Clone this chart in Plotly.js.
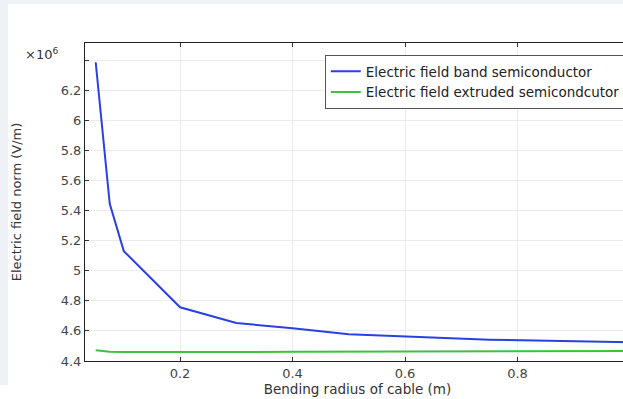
<!DOCTYPE html>
<html><head><meta charset="utf-8">
<script src="https://cdn.plot.ly/plotly-3.0.1.min.js"></script>
<style>
html,body{margin:0;padding:0;width:623px;height:399px;overflow:hidden;background:#fff;}
#topband{position:absolute;left:0;top:0;width:623px;height:4px;background:#eef1f5;}
#leftband{position:absolute;left:0;top:0;width:8px;height:385px;background:#eef1f5;}
#g{position:absolute;left:8px;top:4px;width:660px;height:395px;}
</style></head><body>
<div id="topband"></div><div id="leftband"></div>
<div id="g"></div>
<script>
const radius = [0.05, 0.075, 0.1, 0.2, 0.3, 0.4, 0.5, 0.6, 0.75, 1.0];
const fieldBand = [6.385, 5.445, 5.13, 4.757, 4.652, 4.618, 4.578, 4.565, 4.542, 4.525];
const fieldExtruded = [4.471, 4.462, 4.459, 4.458, 4.459, 4.461, 4.462, 4.463, 4.464, 4.466];
const yTickVals = [4.4, 4.6, 4.8, 5, 5.2, 5.4, 5.6, 5.8, 6, 6.2, 6.4];
const yTickText = ['4.4','4.6','4.8','5','5.2','5.4','5.6','5.8','6','6.2',''];
const xTickVals = [0.2, 0.4, 0.6, 0.8];
const xTickText = ['0.2','0.4','0.6','0.8'];

const FF = 'DejaVu Sans, sans-serif';
const traces = [
  {x: radius, y: fieldBand, mode:'lines', name:'Electric field band semiconductor',
   line:{color:'#2a40e2', width:2}},
  {x: radius, y: fieldExtruded, mode:'lines', name:'Electric field extruded semicondcutor',
   line:{color:'#40c040', width:2}}
];
const layout = {
  width:660, height:395,
  margin:{l:77, r:38, t:39, b:38},
  paper_bgcolor:'#fff', plot_bgcolor:'#fff',
  font: {family:FF, size:13, color:'#333'},
  showlegend:true,
  legend:{x:0.44, y:0.962, xanchor:'left', yanchor:'top', bgcolor:'#fff',
    bordercolor:'#555', borderwidth:1, font:{family:FF, size:13.5, color:'#222'},
    tracegroupgap:0, itemwidth:30},
  xaxis:{range:[0.031, 1.0], tickvals:xTickVals, ticktext:xTickText,
    ticks:'inside', ticklen:4, tickcolor:'#333', showline:true, linecolor:'#222', linewidth:1,
    mirror:'ticks', showgrid:true, gridcolor:'#ececec', zeroline:false,
    tickfont:{family:FF, size:13, color:'#444'},
    title:{text:'Bending radius of cable (m)', standoff:1, font:{family:FF, size:13.5, color:'#333'}}},
  yaxis:{range:[4.4, 6.513], tickvals:yTickVals, ticktext:yTickText,
    ticks:'inside', ticklen:4, tickcolor:'#333', showline:true, linecolor:'#222', linewidth:1,
    mirror:'ticks', showgrid:true, gridcolor:'#ececec', zeroline:false,
    tickfont:{family:FF, size:13, color:'#444'},
    title:{text:'Electric field norm (V/m)', standoff:36, font:{family:FF, size:13, color:'#333'}}},
  annotations:[{xref:'paper', yref:'paper', x:0, y:0.966, xanchor:'right', yanchor:'middle', xshift:-25,
    text:'×10<sup>6</sup>', showarrow:false, font:{family:FF, size:13, color:'#333'}}]
};
Plotly.newPlot('g', traces, layout, {displayModeBar:false, staticPlot:true});
</script></body></html>
